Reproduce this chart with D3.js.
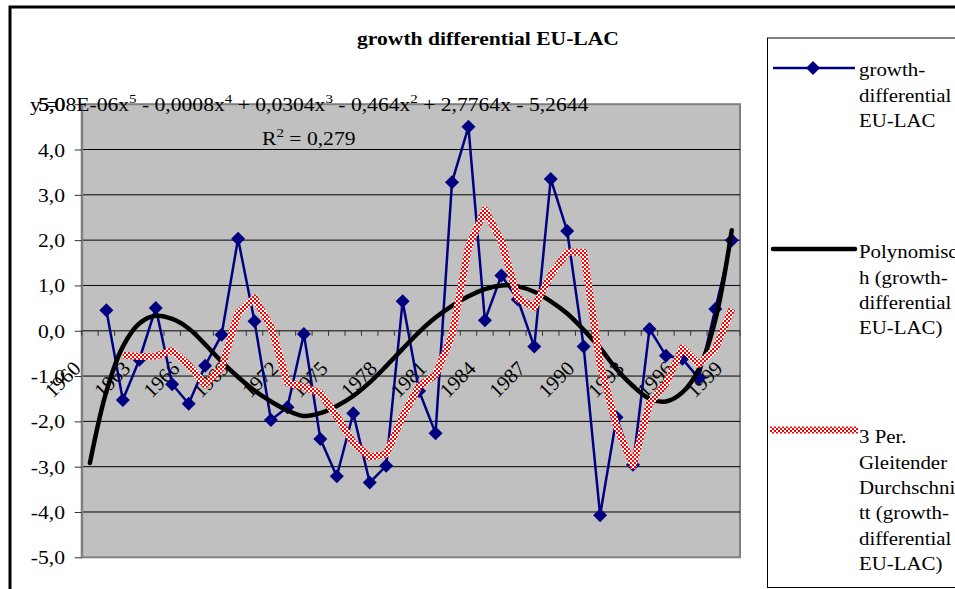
<!DOCTYPE html>
<html>
<head>
<meta charset="utf-8">
<script src="https://cdn.jsdelivr.net/npm/d3@7"></script>
<style>
  html, body { margin: 0; padding: 0; background: #fff; overflow: hidden; }
  svg { display: block; font-family: "Liberation Serif", "Times New Roman", serif; }
</style>
</head>
<body>
<svg id="chart" width="955" height="589"></svg>
<script>
// Kategorien (Jahre)
const years = [1960, 1961, 1962, 1963, 1964, 1965, 1966, 1967, 1968, 1969,
               1970, 1971, 1972, 1973, 1974, 1975, 1976, 1977, 1978, 1979,
               1980, 1981, 1982, 1983, 1984, 1985, 1986, 1987, 1988, 1989,
               1990, 1991, 1992, 1993, 1994, 1995, 1996, 1997, 1998, 1999];

// growth-differential EU-LAC (1960 leer)
const growthDiff = [null, 0.45, -1.53, -0.64, 0.50, -1.18, -1.61, -0.77, -0.09, 2.03,
                    0.21, -1.97, -1.69, -0.07, -2.39, -3.21, -1.82, -3.35, -2.98, 0.65,
                    -1.33, -2.26, 3.28, 4.50, 0.23, 1.22, 0.69, -0.35, 3.35, 2.20,
                    -0.35, -4.07, -1.91, -2.96, 0.04, -0.55, -0.62, -1.05, 0.48, 2.00];

// Polynomische Trendlinie
const trendPoly = [-2.92, -1.34, -0.35, 0.16, 0.33, 0.26, 0.05, -0.30, -0.68, -1.02,
                   -1.32, -1.56, -1.76, -1.88, -1.82, -1.66, -1.44, -1.14, -0.78, -0.40,
                   -0.03, 0.29, 0.55, 0.76, 0.92, 1.00, 0.98, 0.86, 0.65, 0.38,
                   0.02, -0.38, -0.85, -1.22, -1.50, -1.56, -1.36, -0.85, 0.24, 2.22];

// 3 Per. Gleitender Durchschnitt
const movingAvg = [null, null, -0.54, -0.57, -0.56, -0.44, -0.76, -1.19, -0.82, 0.39,
                   0.72, 0.09, -1.15, -1.24, -1.38, -1.89, -2.47, -2.79, -2.72, -1.89,
                   -1.22, -0.98, -0.10, 1.84, 2.67, 1.98, 0.71, 0.52, 1.23, 1.73,
                   1.73, -0.74, -2.11, -2.98, -1.61, -1.16, -0.38, -0.74, -0.40, 0.48];

// Achsenbeschriftungen
const tickYears = [1960, 1963, 1966, 1969, 1972, 1975, 1978, 1981, 1984, 1987, 1990, 1993, 1996, 1999];
const yTicks = [-5, -4, -3, -2, -1, 0, 1, 2, 3, 4, 5];

const legendLabels = [
    ["growth-", "differential", "EU-LAC"],
    ["Polynomisc", "h (growth-", "differential", "EU-LAC)"],
    ["3 Per.", "Gleitender", "Durchschni", "tt (growth-", "differential", "EU-LAC)"]
];

//////////////////////////////////////////////////////////////////////////////////
const svg = d3.select("#chart");
const plot = { left: 81.7, right: 740, top: 104.2, bottom: 557.3 };
const SX = 1.2;    // die Schrift im Bild ist etwas in die Breite gezogen
const FS = 18;
const fmt = v => v.toFixed(1).replace(".", ",");

const x = d3.scaleBand().domain(years).range([plot.left, plot.right]);
const y = d3.scaleLinear().domain([-5, 5]).range([plot.bottom, plot.top]);
const cx = yr => x(yr) + x.bandwidth() / 2;

// Schachbrettmuster fuer den gleitenden Durchschnitt
const pat = svg.append("defs").append("pattern")
    .attr("id", "checker")
    .attr("patternUnits", "userSpaceOnUse")
    .attr("width", 4).attr("height", 4);
pat.append("rect").attr("width", 4).attr("height", 4).attr("fill", "#fff");
pat.append("rect").attr("width", 2).attr("height", 2).attr("fill", "#f00");
pat.append("rect").attr("x", 2).attr("y", 2).attr("width", 2).attr("height", 2).attr("fill", "#f00");

// Diagrammrahmen
svg.append("rect")
    .attr("x", 10).attr("y", 7)
    .attr("width", 1000).attr("height", 700)
    .attr("fill", "#fff").attr("stroke", "#000").attr("stroke-width", 3);

// Zeichnungsflaeche
svg.append("rect")
    .attr("x", plot.left).attr("y", plot.top)
    .attr("width", plot.right - plot.left).attr("height", plot.bottom - plot.top)
    .attr("fill", "#c0c0c0").attr("stroke", "#808080").attr("stroke-width", 2);

// Gitternetzlinien
svg.append("g").selectAll("line")
    .data(yTicks.filter(v => v > -5 && v < 5 && v !== 0))
    .join("line")
    .attr("x1", plot.left).attr("x2", plot.right)
    .attr("y1", d => y(d)).attr("y2", d => y(d))
    .attr("stroke", "#000").attr("stroke-width", 1);

// Y-Achse
const yAxis = svg.append("g")
    .attr("transform", `translate(${plot.left},0)`)
    .call(d3.axisLeft(y).tickValues(yTicks).tickSize(7).tickSizeOuter(0).tickFormat(fmt));
yAxis.attr("font-family", null).attr("font-size", FS);
yAxis.select(".domain").attr("stroke", "#808080").attr("stroke-width", 2);
yAxis.selectAll(".tick line").attr("stroke", "#333");
yAxis.selectAll(".tick text")
    .attr("fill", "#000")
    .attr("x", -16.7 / SX)
    .attr("dy", null)
    .attr("y", 6.5)
    .attr("transform", `scale(${SX},1)`);

// X-Achse bei 0
const xAxis = svg.append("g");
xAxis.append("line")
    .attr("x1", plot.left).attr("x2", plot.right)
    .attr("y1", y(0)).attr("y2", y(0))
    .attr("stroke", "#404040").attr("stroke-width", 1.5);
const bounds = years.map(yr => x(yr)).concat([x.range()[1]]);
xAxis.selectAll("line.tick")
    .data(bounds)
    .join("line")
    .attr("class", "tick")
    .attr("x1", d => d).attr("x2", d => d)
    .attr("y1", y(0)).attr("y2", y(0) + 5)
    .attr("stroke", "#333").attr("stroke-width", 1);
xAxis.selectAll("text")
    .data(tickYears)
    .join("text")
    .attr("text-anchor", "end")
    .attr("font-size", 20.5)
    .attr("transform", d => `translate(${cx(d) - 7.9},${y(0) + 39}) rotate(-45)`)
    .text(d => d);

// Reihe: growth-differential
const blueLine = d3.line()
    .defined(d => d.v != null)
    .x(d => cx(d.year))
    .y(d => y(d.v));
const bluePts = years.map((yr, i) => ({ year: yr, v: growthDiff[i] }));
svg.append("path")
    .datum(bluePts)
    .attr("d", blueLine)
    .attr("fill", "none").attr("stroke", "#000080").attr("stroke-width", 2.5)
    .attr("stroke-linejoin", "round");
svg.append("g").selectAll("path")
    .data(bluePts.filter(d => d.v != null))
    .join("path")
    .attr("d", "M0,-7L7,0L0,7L-7,0Z")
    .attr("transform", d => `translate(${cx(d.year)},${y(d.v)})`)
    .attr("fill", "#000080");

// Polynomische Trendlinie
const trendLine = d3.line()
    .curve(d3.curveCatmullRom)
    .x(d => cx(d.year))
    .y(d => y(d.v));
svg.append("path")
    .datum(years.map((yr, i) => ({ year: yr, v: trendPoly[i] })))
    .attr("d", trendLine)
    .attr("fill", "none").attr("stroke", "#000").attr("stroke-width", 4.5)
    .attr("stroke-linecap", "round");

// Gleitender Durchschnitt
svg.append("path")
    .datum(years.map((yr, i) => ({ year: yr, v: movingAvg[i] })))
    .attr("d", blueLine)
    .attr("fill", "none").attr("stroke", "url(#checker)").attr("stroke-width", 7)
    .attr("stroke-linejoin", "round");

// Titel
svg.append("text")
    .attr("transform", `translate(488,45) scale(${SX},1)`)
    .attr("text-anchor", "middle")
    .attr("font-size", FS).attr("font-weight", "bold")
    .text("growth differential EU-LAC");

// Gleichung und R2 (im Original liegt "y =" halb unter der Zahl)
svg.append("text")
    .attr("transform", `translate(30,111) scale(${SX},1)`)
    .attr("font-size", FS)
    .text("y = ");
const eq = svg.append("text")
    .attr("transform", `translate(38.5,111) scale(${SX},1)`)
    .attr("font-size", FS);
const eqParts = [["5,08E-06x", "5"], [" - 0,0008x", "4"], [" + 0,0304x", "3"],
                 [" - 0,464x", "2"], [" + 2,7764x - 5,2644", null]];
let raised = false;
eqParts.forEach(p => {
    eq.append("tspan").attr("dy", raised ? 8 : 0).text(p[0]);
    raised = false;
    if (p[1]) {
        eq.append("tspan").attr("dy", -8).attr("font-size", 12.5).text(p[1]);
        raised = true;
    }
});
const r2 = svg.append("text")
    .attr("transform", `translate(262,145) scale(${SX},1)`)
    .attr("font-size", FS);
r2.append("tspan").text("R");
r2.append("tspan").attr("dy", -8).attr("font-size", 12.5).text("2");
r2.append("tspan").attr("dy", 8).text(" = 0,279");

// Legende
svg.append("rect")
    .attr("x", 767.5).attr("y", 38)
    .attr("width", 300).attr("height", 549.5)
    .attr("fill", "#fff").attr("stroke", "#000").attr("stroke-width", 1);

const legendFirstBase = [76.3, 258.3, 443.3];
const lg = svg.append("g");
legendLabels.forEach((lines, k) => {
    lines.forEach((t, j) => {
        lg.append("text")
            .attr("transform", `translate(859,${legendFirstBase[k] + j * 25.3}) scale(1.16,1)`)
            .attr("font-size", FS)
            .text(t);
    });
});
lg.append("line").attr("x1", 773).attr("x2", 855).attr("y1", 68).attr("y2", 68)
    .attr("stroke", "#000080").attr("stroke-width", 2.5);
lg.append("path").attr("d", "M0,-7L7,0L0,7L-7,0Z")
    .attr("transform", "translate(813,68)").attr("fill", "#000080");
lg.append("line").attr("x1", 773).attr("x2", 855).attr("y1", 249).attr("y2", 249)
    .attr("stroke", "#000").attr("stroke-width", 4.5).attr("stroke-linecap", "round");
lg.append("line").attr("x1", 770).attr("x2", 858).attr("y1", 430).attr("y2", 430)
    .attr("stroke", "url(#checker)").attr("stroke-width", 7);
</script>
</body>
</html>
